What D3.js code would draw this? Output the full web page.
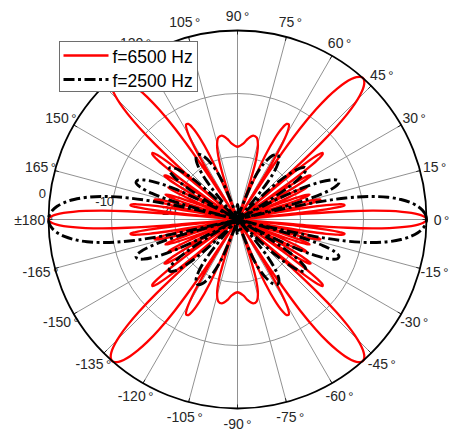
<!DOCTYPE html>
<html>
<head>
<meta charset="utf-8">
<script src="https://cdn.jsdelivr.net/npm/d3@7"></script>
<style>
  html, body { margin: 0; padding: 0; background: #fff; }
  svg { display: block; }
  text { font-family: "Liberation Sans", Arial, Helvetica, sans-serif; }
</style>
</head>
<body>
<svg id="chart" width="451" height="430"></svg>
<script>
// Directivity pattern, first quadrant (0..90 deg); the pattern is symmetric
// about both axes, so the other three quadrants reuse these values.
const angles6500 = [
  0, 0.54, 1.07, 1.61, 2.15, 2.68, 3.22, 3.76, 4.29, 4.83, 5.16, 5.37,
  5.91, 6.45, 6.99, 7.53, 8.07, 8.61, 9.16, 9.70, 10.24, 10.79,
  11.34, 11.88, 12.43, 12.98, 13.53, 14.09, 14.64, 15.19, 15.75, 16.31,
  16.87, 17.43, 17.99, 18.56, 19.12, 19.69, 20.26, 20.84, 21.41, 21.99,
  22.57, 23.15, 23.73, 24.32, 24.91, 25.50, 26.10, 26.70, 27.30, 27.91,
  28.51, 29.13, 29.74, 30.36, 30.98, 31.61, 32.24, 32.88, 33.52, 34.17,
  34.82, 35.47, 36.13, 36.80, 37.48, 38.15, 38.84, 39.53, 40.23, 40.94,
  41.22, 41.65, 42.37, 43.10, 43.84, 44.59, 45.35, 46.11, 46.89, 47.69, 48.49,
  49.30, 50.13, 50.98, 51.84, 52.71, 53.61, 54.52, 55.46, 56.42, 57.00, 57.40,
  58.41, 59.45, 60.52, 61.63, 62.78, 63.97, 65.22, 66.54, 67.92, 69.40,
  70.97, 72.70, 74.60, 76.77, 79.37, 82.83, 85.47, 90
];
const level6500 = [
  0, -0.14, -0.57, -1.30, -2.39, -3.87, -5.86, -8.57, -12.48, -19.04, -27.42, -30,
  -20.70, -15.82, -13.68, -12.86, -12.95, -13.88, -15.73, -18.93, -24.89, -30,
  -25.58, -20.30, -17.80, -16.66, -16.46, -17.12, -18.72, -21.68, -27.42, -30,
  -27.71, -22.24, -19.57, -18.26, -17.89, -18.39, -19.84, -22.65, -28.25, -30,
  -28.25, -22.65, -19.84, -18.39, -17.89, -18.26, -19.57, -22.24, -27.71, -30,
  -27.42, -21.68, -18.72, -17.12, -16.46, -16.66, -17.80, -20.30, -25.58, -30,
  -24.89, -18.93, -15.73, -13.88, -12.95, -12.86, -13.68, -15.82, -20.70, -30,
  -27.42, -19.04, -12.48, -8.57, -5.86, -3.87, -2.39, -1.30, -0.57, -0.14, 0,
  -0.14, -0.57, -1.30, -2.39, -3.87, -5.86, -8.57, -12.48, -19.04, -27.42, -30,
  -20.70, -15.82, -13.68, -12.86, -12.95, -13.88, -15.73, -18.93, -24.89, -30,
  -25.58, -20.30, -17.80, -16.66, -16.46, -17.12, -17.87, -18.45
];
const angles2500 = [
  0, 1.39, 2.79, 4.19, 5.59, 6.99, 8.40, 9.81, 11.23, 12.65, 13.51, 14.09,
  15.53, 16.98, 18.45, 19.92, 21.41, 22.92, 24.44, 25.98, 27.55, 29.13,
  30.74, 32.38, 34.04, 35.74, 37.48, 39.26, 41.09, 42.96, 44.90, 46.90,
  48.99, 51.16, 53.44, 55.85, 58.42, 61.19, 64.24, 67.66, 71.68, 76.81,
  86.36, 90
];
const level2500 = [
  0, -0.14, -0.57, -1.30, -2.39, -3.87, -5.86, -8.57, -12.48, -19.04, -27.42, -30,
  -20.70, -15.82, -13.68, -12.86, -12.95, -13.88, -15.73, -18.93, -24.89, -30,
  -25.58, -20.30, -17.80, -16.66, -16.46, -17.12, -18.72, -21.68, -27.42, -30,
  -27.71, -22.24, -19.57, -18.26, -17.89, -18.39, -19.84, -22.65, -28.25, -30,
  -28.25, -27.6
];

const seriesNames = ["f=6500 Hz", "f=2500 Hz"];

const thetaTicks = [0, 15, 30, 45, 60, 75, 90, 105, 120, 135, 150, 165,
                    180, 195, 210, 225, 240, 255, 270, 285, 300, 315, 330, 345];
const thetaTickLabels = ["0", "15", "30", "45", "60", "75", "90", "105", "120", "135", "150", "165",
                         "\u00b1180", "-165", "-150", "-135", "-120", "-105", "-90", "-75", "-60", "-45", "-30", "-15"];
const rLimits = [-30, 0];
const rTicks = [-20, -10, 0];
const rTickLabels = ["-20", "-10", "0"];

// ---- layout ----
const cx = 237.5, cy = 219.5, R = 189;
const rLabelAngle = 172.3;

const svg = d3.select("#chart");
const g = svg.append("g").attr("transform", `translate(${cx},${cy})`);

const rScale = d3.scaleLinear().domain(rLimits).range([0, R]).clamp(true);
// maths angle (deg, counter-clockwise from east) -> d3 radial angle
const aScale = d3.scaleLinear().domain([0, 360]).range([Math.PI / 2, Math.PI / 2 - 2 * Math.PI]);
const px = (deg, r) => r * Math.sin(aScale(deg));
const py = (deg, r) => -r * Math.cos(aScale(deg));

// ---- grid ----
const gridColor = "#858585";
g.selectAll("circle.rgrid").data(rTicks.filter(t => t < rLimits[1])).join("circle")
  .attr("class", "rgrid").attr("r", d => rScale(d))
  .attr("fill", "none").attr("stroke", gridColor).attr("stroke-width", 0.9);

g.selectAll("line.tgrid").data(thetaTicks).join("line")
  .attr("class", "tgrid")
  .attr("x1", 0).attr("y1", 0)
  .attr("x2", d => px(d, R)).attr("y2", d => py(d, R))
  .attr("stroke", gridColor).attr("stroke-width", 0.9);

// theta tick marks on the outer ring
g.selectAll("line.ttick").data(thetaTicks).join("line")
  .attr("class", "ttick")
  .attr("x1", d => px(d, R - 4)).attr("y1", d => py(d, R - 4))
  .attr("x2", d => px(d, R)).attr("y2", d => py(d, R))
  .attr("stroke", "#262626").attr("stroke-width", 1);

// ---- tick labels ----
const labelColor = "#262626";
g.selectAll("text.tlabel").data(thetaTicks).join("text")
  .attr("class", "tlabel")
  .attr("x", d => px(d, R + 15)).attr("y", d => py(d, R + 15))
  .attr("text-anchor", "middle").attr("dominant-baseline", "central")
  .attr("font-size", 14).attr("fill", labelColor)
  .each(function (d, i) {
    const t = d3.select(this);
    t.append("tspan").text(thetaTickLabels[i]);
    t.append("tspan").attr("dx", 2.5).attr("font-size", 13).text("\u00b0");
  });

g.selectAll("text.rlabel").data(rTicks).join("text")
  .attr("class", "rlabel")
  .attr("x", d => px(rLabelAngle, rScale(d) + 8))
  .attr("y", d => py(rLabelAngle, rScale(d) + 8))
  .attr("text-anchor", "middle").attr("dominant-baseline", "central")
  .attr("font-size", 13).attr("fill", labelColor)
  .text((d, i) => rTickLabels[i]);

// ---- traces ----
function fullTrace(ang, lev) {
  const n = ang.length, pts = [];
  for (let i = 0; i < n; i++) pts.push([ang[i], lev[i]]);
  for (let i = n - 2; i >= 0; i--) pts.push([180 - ang[i], lev[i]]);
  for (let i = 1; i < n; i++) pts.push([180 + ang[i], lev[i]]);
  for (let i = n - 2; i >= 1; i--) pts.push([360 - ang[i], lev[i]]);
  return pts;
}

const radial = d3.lineRadial()
  .angle(d => aScale(d[0]))
  .radius(d => rScale(d[1]))
  .curve(d3.curveCatmullRomClosed.alpha(0.5));

const series = [
  { name: seriesNames[0], pts: fullTrace(angles6500, level6500), color: "#ff0000", width: 2.3, dash: null },
  { name: seriesNames[1], pts: fullTrace(angles2500, level2500), color: "#000000", width: 2.9, dash: "11,3.5,3,3.5" }
];

g.selectAll("path.trace").data(series).join("path")
  .attr("class", "trace")
  .attr("d", d => radial(d.pts))
  .attr("fill", "none")
  .attr("stroke", d => d.color)
  .attr("stroke-width", d => d.width)
  .attr("stroke-dasharray", d => d.dash)
  .attr("stroke-linejoin", "round");

// outer ring
g.append("circle").attr("r", rScale(rLimits[1]))
  .attr("fill", "none").attr("stroke", "#000").attr("stroke-width", 1.8);

// ---- legend ----
const legend = svg.append("g").attr("transform", "translate(59.5,41.5)");
legend.append("rect").attr("width", 138).attr("height", 50)
  .attr("fill", "#fff").attr("stroke", "#6e6e6e").attr("stroke-width", 1);
const rows = legend.selectAll("g.row").data(series).join("g")
  .attr("class", "row")
  .attr("transform", (d, i) => `translate(0,${14 + i * 24})`);
rows.append("line")
  .attr("x1", 4).attr("x2", 49).attr("y1", 0).attr("y2", 0)
  .attr("stroke", d => d.color).attr("stroke-width", d => d.width)
  .attr("stroke-dasharray", d => d.dash);
rows.append("text")
  .attr("x", 53).attr("y", 1)
  .attr("dominant-baseline", "central")
  .attr("font-size", 17.5).attr("fill", "#000")
  .text(d => d.name);
</script>
</body>
</html>
